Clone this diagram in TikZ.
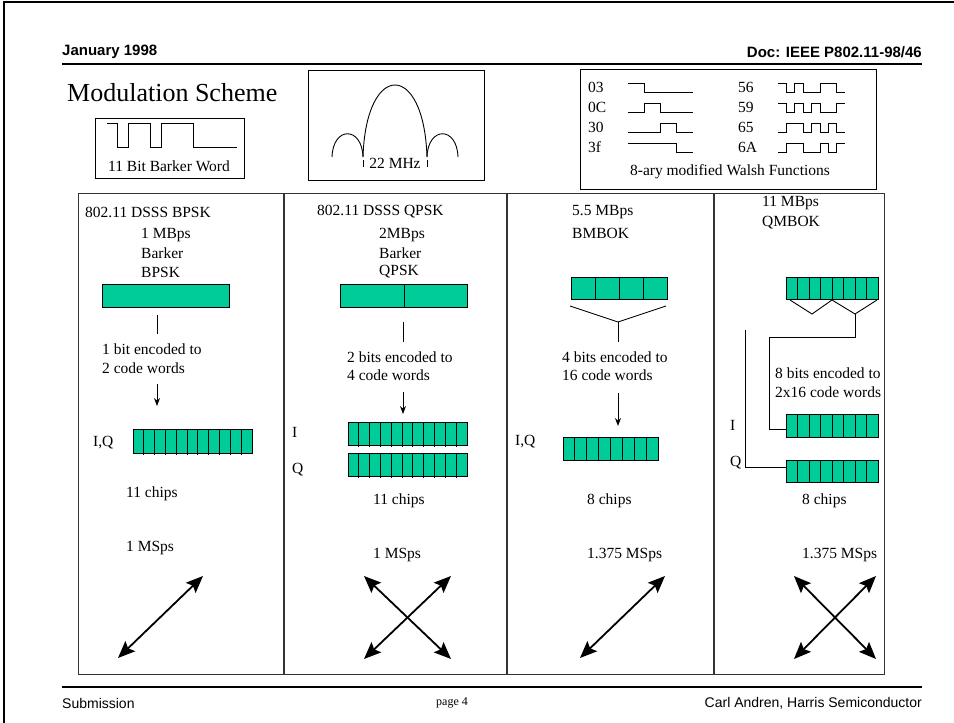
\documentclass[tikz,border=0pt]{standalone}
\usepackage{fontspec}
\setmainfont{Liberation Serif}
\newfontfamily\arialfont{Liberation Sans}
\usetikzlibrary{arrows.meta, positioning, calc}
\definecolor{chipgreen}{HTML}{00CC99}
\definecolor{rulegray}{HTML}{333333}

\begin{document}
\begin{tikzpicture}[x=1pt, y=-1pt,
    txt/.style={font=\fontsize{15.5}{18}\selectfont, inner sep=0pt, anchor=west},
    ctxt/.style={font=\fontsize{15.5}{18}\selectfont, inner sep=0pt},
    hdr/.style={font=\arialfont\bfseries\fontsize{15}{18}\selectfont, inner sep=0pt},
    ftr/.style={font=\arialfont\fontsize{14}{17}\selectfont, inner sep=0pt},
    panel/.style={draw=black, line width=1.1pt, inner sep=0pt, anchor=north west},
    chip/.style={draw=black, fill=chipgreen, line width=1pt, inner sep=0pt, anchor=north west},
    thin/.style={line width=0.9pt},
    down/.style={-{Stealth[length=8pt, width=6pt]}, line width=0.9pt},
    phase/.style={>={Stealth[length=17pt, width=14pt, inset=3pt]}, <->, line width=1.8pt}
]
\useasboundingbox (0,0) rectangle (954,723);

% page frame
\draw[line width=2pt] (4,723) -- (4,2) -- (954,2);

% header and footer
\node[hdr, anchor=west] (date) at (62,52) {January 1998};
\node[hdr, anchor=east] (docid) at (922,52) {Doc: IEEE P802.11-98/46};
\draw[line width=1.6pt] (62,64) -- (922,64);
\draw[line width=1.6pt] (62,687) -- (922,687);
\node[ftr, anchor=west] (subm) at (62,703) {Submission};
\node[inner sep=0pt, font=\fontsize{12}{14}\selectfont] (pageno) at (452,703) {page 4};
\node[ftr, anchor=east] (author) at (922,703) {Carl Andren, Harris Semiconductor};

% title
\node[inner sep=0pt, anchor=west, font=\fontsize{26}{30}\selectfont] (title) at (67,93) {Modulation Scheme};

% barker word
\node[panel, minimum width=149pt, minimum height=60pt] (barkerbox) at (95,118) {};
\draw[thin] (107,123) -- (117.8,123) -- (117.8,147) -- (128.6,147) -- (128.6,123) -- (150.2,123)
  -- (150.2,147) -- (161,147) -- (161,123) -- (193.4,123) -- (193.4,147) -- (237,147);
\node[ctxt] (barkerlbl) at (169,166) {11 Bit Barker Word};

% spectrum
\node[panel, minimum width=176pt, minimum height=110pt] (specbox) at (308,70) {};
\draw[thin] (363,157) .. controls (366,61) and (424,61) .. (427,157);
\draw[thin] (332,157) .. controls (333,126) and (362,126) .. (363,157);
\draw[thin] (427,157) .. controls (428,126) and (457,126) .. (458,157);
\draw[thin] (363,160) -- (363,167);
\draw[thin] (427,160) -- (427,167);
\node[ctxt] (bwlbl) at (395,163) {22 MHz};

% walsh functions
\node[panel, minimum width=296pt, minimum height=120pt] (walshbox) at (580,69) {};
\node[txt] (w03) at (588,87) {03};
\node[txt] (w0C) at (588,107) {0C};
\node[txt] (w30) at (588,127) {30};
\node[txt] (w3f) at (588,147) {3f};
\node[txt] (w56) at (738,87) {56};
\node[txt] (w59) at (738,107) {59};
\node[txt] (w65) at (738,127) {65};
\node[txt] (w6A) at (738,147) {6A};
\draw[thin] (628,83) -- ++(16.2,0) -- ++(0,9) -- ++(48.6,0);
\draw[thin] (628,112) -- ++(16.2,0) -- ++(0,-9) -- ++(16.2,0) -- ++(0,9) -- ++(32.4,0);
\draw[thin] (628,132) -- ++(32.4,0) -- ++(0,-9) -- ++(16.2,0) -- ++(0,9) -- ++(16.2,0);
\draw[thin] (628,143) -- ++(48.6,0) -- ++(0,9) -- ++(16.2,0);
\draw[thin] (778,83) -- ++(8.4,0) -- ++(0,9) -- ++(8.4,0) -- ++(0,-9) -- ++(8.4,0) -- ++(0,9)
  -- ++(16.8,0) -- ++(0,-9) -- ++(16.8,0) -- ++(0,9) -- ++(8.4,0);
\draw[thin] (778,103) -- ++(8.4,0) -- ++(0,9) -- ++(8.4,0) -- ++(0,-9) -- ++(8.4,0) -- ++(0,9)
  -- ++(8.4,0) -- ++(0,-9) -- ++(8.4,0) -- ++(0,9) -- ++(16.8,0) -- ++(0,-9) -- ++(8.4,0);
\draw[thin] (778,132) -- ++(8.4,0) -- ++(0,-9) -- ++(16.8,0) -- ++(0,9) -- ++(8.4,0) -- ++(0,-9)
  -- ++(8.4,0) -- ++(0,9) -- ++(8.4,0) -- ++(0,-9) -- ++(8.4,0) -- ++(0,9) -- ++(8.4,0);
\draw[thin] (778,152) -- ++(8.4,0) -- ++(0,-9) -- ++(16.8,0) -- ++(0,9) -- ++(16.8,0) -- ++(0,-9)
  -- ++(8.4,0) -- ++(0,9) -- ++(8.4,0) -- ++(0,-9) -- ++(8.4,0);
\node[ctxt] (walshlbl) at (730,172) {8-ary modified Walsh Functions};

% table of the four schemes
\node[panel, draw=rulegray, line width=1.3pt, minimum width=806pt, minimum height=481pt] (modtable) at (78,193) {};
\draw[rulegray, line width=1.3pt] (284,193) -- (284,674);
\draw[rulegray, line width=1.3pt] (507,193) -- (507,674);
\draw[rulegray, line width=1.3pt] (714,193) -- (714,674);

% column 1: BPSK
\node[txt] (bpskhead) at (85,212) {802.11 DSSS BPSK};
\node[txt] (bpskrate) at (141,235) {1 MBps};
\node[txt] (bpskcode) at (141,253) {Barker};
\node[txt] (bpskmod) at (141,272) {BPSK};
\node[chip, minimum width=127pt, minimum height=23pt] (bpskbit) at (102,284) {};
\coordinate (b1a) at (157,315);
\coordinate (b1b) at (157,334);
\draw[thin] (b1a) -- (b1b);
\node[txt] (bpskenc) at (102,349) {1 bit encoded to};
\node[txt] (bpskenc2) at (102,368) {2 code words};
\coordinate (b1c) at (157,384);
\coordinate (b1d) at (157,406);
\draw[down] (b1c) -- (b1d);
\node[txt] (bpskiq) at (93,443) {I,Q};
\node[chip, minimum width=119pt, minimum height=24pt] (bpskchips) at (133,429) {};
\foreach \k in {1,...,10}
  \draw[thin] ($(bpskchips.north west)+(\k*10.82,0)$) -- ++(0,26);
\node[txt] (bpskn) at (126,494) {11 chips};
\node[txt] (bpsksps) at (126,548) {1 MSps};
\coordinate (b1p) at (118,658);
\coordinate (b1q) at (203,576);
\draw[phase] (b1p) -- (b1q);

% column 2: QPSK
\node[txt] (qpskhead) at (317,212) {802.11 DSSS QPSK};
\node[txt] (qpskrate) at (379,235) {2MBps};
\node[txt] (qpskcode) at (379,253) {Barker};
\node[txt] (qpskmod) at (379,272) {QPSK};
\node[chip, minimum width=127pt, minimum height=23pt] (qpskbits) at (340,284) {};
\draw[thin] (qpskbits.north) -- (qpskbits.south);
\coordinate (b2a) at (403,322);
\coordinate (b2b) at (403,342);
\draw[thin] (b2a) -- (b2b);
\node[txt] (qpskenc) at (347,357) {2 bits encoded to};
\node[txt] (qpskenc2) at (347,375) {4 code words};
\coordinate (b2c) at (403,392);
\coordinate (b2d) at (403,414);
\draw[down] (b2c) -- (b2d);
\node[txt] (qpski) at (292,432) {I};
\node[txt] (qpskq) at (292,470) {Q};
\node[chip, minimum width=119pt, minimum height=23pt] (qpskichips) at (348,422) {};
\node[chip, minimum width=119pt, minimum height=23pt] (qpskqchips) at (348,453) {};
\foreach \k in {1,...,10} {
  \draw[thin] ($(qpskichips.north west)+(\k*10.82,0)$) -- ++(0,25);
  \draw[thin] ($(qpskqchips.north west)+(\k*10.82,0)$) -- ++(0,25);
}
\node[txt] (qpskn) at (373,501) {11 chips};
\node[txt] (qpsksps) at (373,555) {1 MSps};
\coordinate (b2p) at (364,576);
\coordinate (b2q) at (451,659);
\coordinate (b2r) at (364,659);
\coordinate (b2s) at (451,576);
\draw[phase] (b2p) -- (b2q);
\draw[phase] (b2r) -- (b2s);

% column 3: BMBOK
\node[txt] (bmbokrate) at (572,212) {5.5 MBps};
\node[txt] (bmbokmod) at (572,233) {BMBOK};
\node[chip, minimum width=96pt, minimum height=22pt] (bmbokbits) at (571,277) {};
\foreach \k in {1,...,3}
  \draw[thin] ($(bmbokbits.north west)+(\k*24,0)$) -- ++(0,22);
\coordinate (b3l) at (570,306);
\coordinate (b3m) at (618,322);
\coordinate (b3r) at (666,306);
\coordinate (b3b) at (618,342);
\draw[thin] (b3l) -- (b3m) -- (b3r);
\draw[thin] (b3m) -- (b3b);
\node[txt] (bmbokenc) at (562,357) {4 bits encoded to};
\node[txt] (bmbokenc2) at (562,375) {16 code words};
\coordinate (b3c) at (618,393);
\coordinate (b3d) at (618,426);
\draw[down] (b3c) -- (b3d);
\node[txt] (bmbokiq) at (515,442) {I,Q};
\node[chip, minimum width=95pt, minimum height=23pt] (bmbokchips) at (563,437) {};
\foreach \k in {1,...,7}
  \draw[thin] ($(bmbokchips.north west)+(\k*11.875,0)$) -- ++(0,23);
\node[txt] (bmbokn) at (587,501) {8 chips};
\node[txt] (bmboksps) at (587,555) {1.375 MSps};
\coordinate (b3p) at (580,658);
\coordinate (b3q) at (665,576);
\draw[phase] (b3p) -- (b3q);

% column 4: QMBOK
\node[txt] (qmbokrate) at (762,203) {11 MBps};
\node[txt] (qmbokmod) at (762,223) {QMBOK};
\node[chip, minimum width=92pt, minimum height=22pt] (qmbokbits) at (786,277) {};
\foreach \k in {1,...,7}
  \draw[thin] ($(qmbokbits.north west)+(\k*11.5,0)$) -- ++(0,22);
\coordinate (v1l) at (790,300);
\coordinate (v1m) at (812,314);
\coordinate (v2l) at (832,300);
\coordinate (v2m) at (855,314);
\coordinate (v2r) at (877,300);
\draw[thin] (v1l) -- (v1m) -- (v2l) -- (v2m) -- (v2r);
\node[txt] (qmbokenc) at (775,373) {8 bits encoded to};
\node[txt] (qmbokenc2) at (775,392) {2x16 code words};
\node[txt] (qmboki) at (730,425) {I};
\node[txt] (qmbokq) at (730,463) {Q};
\node[chip, minimum width=92pt, minimum height=23pt] (qmbokichips) at (786,414) {};
\node[chip, minimum width=92pt, minimum height=22pt] (qmbokqchips) at (786,460) {};
\foreach \k in {1,...,7} {
  \draw[thin] ($(qmbokichips.north west)+(\k*11.5,0)$) -- ++(0,23);
  \draw[thin] ($(qmbokqchips.north west)+(\k*11.5,0)$) -- ++(0,22);
}
\coordinate (irte) at (769,337);
\coordinate (qtop) at (745,330);
\draw[thin] (v2m) -- (v2m |- irte) -- (irte) |- ($(qmbokichips.north west)+(0,15)$);
\draw[thin] (qtop) |- ($(qmbokqchips.north west)+(0,7)$);
\node[txt] (qmbokn) at (802,501) {8 chips};
\node[txt] (qmboksps) at (802,555) {1.375 MSps};
\coordinate (b4p) at (794,576);
\coordinate (b4q) at (876,659);
\coordinate (b4r) at (794,659);
\coordinate (b4s) at (876,576);
\draw[phase] (b4p) -- (b4q);
\draw[phase] (b4r) -- (b4s);
\end{tikzpicture}
\end{document}
